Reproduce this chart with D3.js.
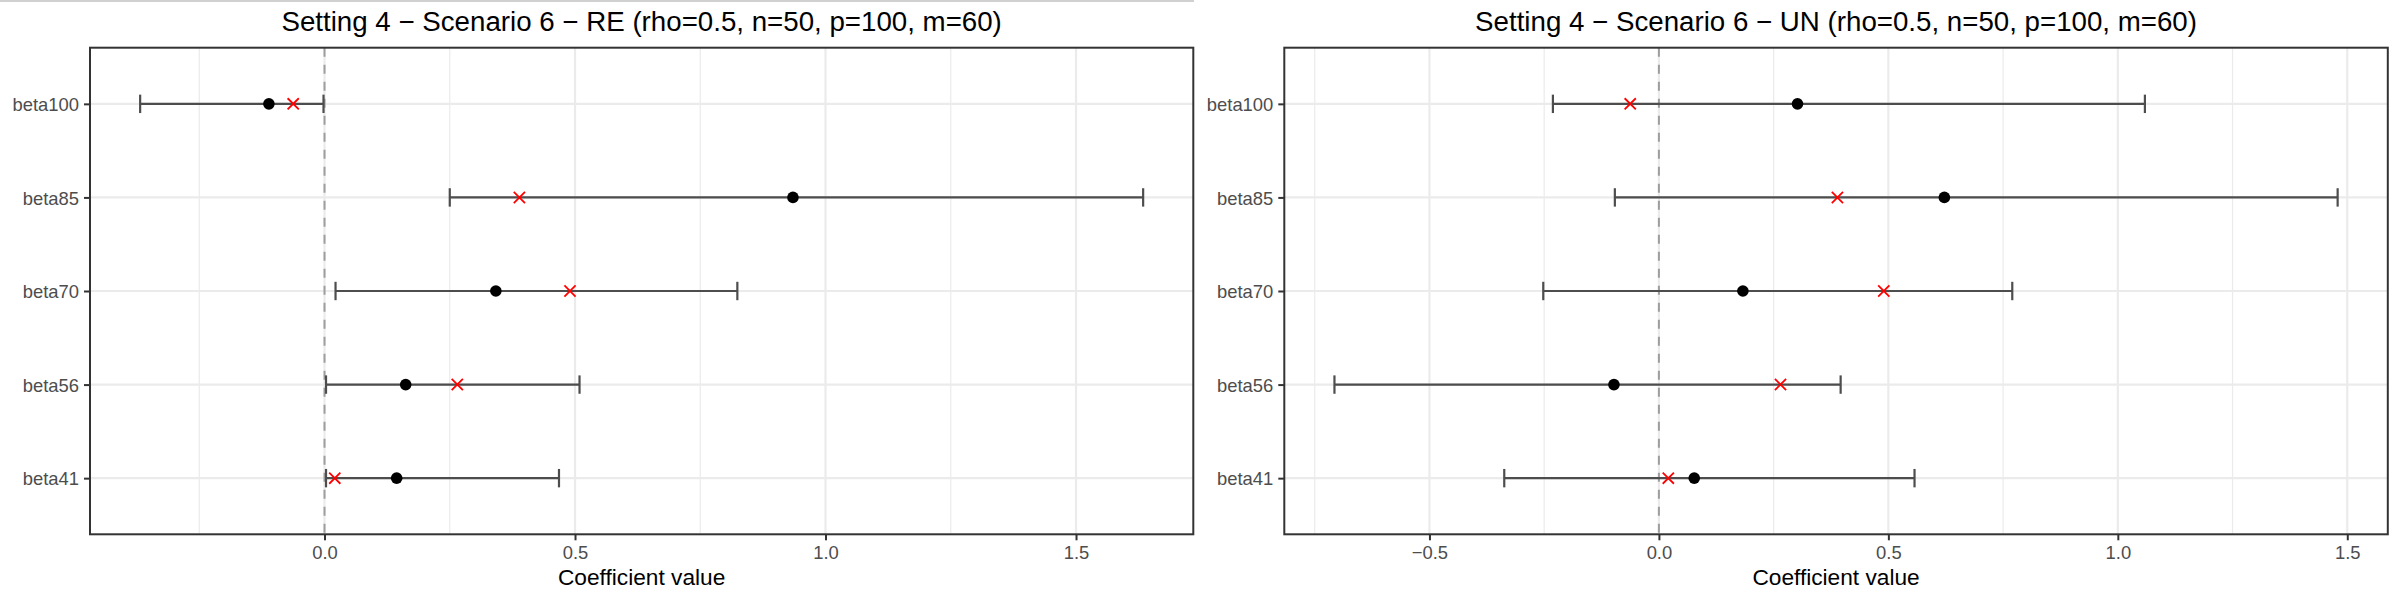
<!DOCTYPE html>
<html>
<head>
<meta charset="utf-8">
<script src="https://cdn.jsdelivr.net/npm/d3@7"></script>
<style>
  html, body { margin: 0; padding: 0; background: #fff; }
  svg { display: block; font-family: "Liberation Sans", Arial, sans-serif; }
</style>
</head>
<body>
<svg id="chart" width="2400" height="601"></svg>
<script>
// ---- data (top-to-bottom order of the y axis) ----
const categories = ["beta100", "beta85", "beta70", "beta56", "beta41"];
const trueValues = [-0.0625, 0.389, 0.490, 0.265, 0.0205];

const reEstimate = [-0.111, 0.935, 0.342, 0.162, 0.144];
const reLower    = [-0.368, 0.250, 0.022, 0.003, 0.003];
const reUpper    = [-0.002, 1.634, 0.824, 0.509, 0.468];

const unEstimate = [0.302, 0.622, 0.183, -0.098, 0.077];
const unLower    = [-0.231, -0.096, -0.252, -0.707, -0.337];
const unUpper    = [1.059, 1.479, 0.770, 0.396, 0.557];

const titles = [
  "Setting 4 \u2212 Scenario 6 \u2212 RE (rho=0.5, n=50, p=100, m=60)",
  "Setting 4 \u2212 Scenario 6 \u2212 UN (rho=0.5, n=50, p=100, m=60)"
];
const xTitle = "Coefficient value";

// ---- layout ----
const svg = d3.select("#chart");
svg.append("rect").attr("x", 0).attr("y", 0).attr("width", 1194).attr("height", 2).attr("fill", "#d0d0d0");

const panels = [
  { x0: 90, x1: 1193.3, title: titles[0], est: reEstimate, lo: reLower, hi: reUpper },
  { x0: 1284.3, x1: 2387.8, title: titles[1], est: unEstimate, lo: unLower, hi: unUpper }
];
const panelTop = 47.7, panelBottom = 534.3;
const fmt = d => (d < 0 ? "\u2212" : "") + d3.format(".1f")(Math.abs(d));

panels.forEach(p => {
  const rows = categories.map((c, i) => ({ cat: c, est: p.est[i], lo: p.lo[i], hi: p.hi[i], tru: trueValues[i] }));
  const mn = d3.min(rows, r => Math.min(r.lo, r.est, r.tru, 0));
  const mx = d3.max(rows, r => Math.max(r.hi, r.est, r.tru, 0));
  const pad = (mx - mn) * 0.05;
  const x = d3.scaleLinear().domain([mn - pad, mx + pad]).range([p.x0, p.x1]);
  const y = d3.scalePoint().domain(categories).range([panelTop, panelBottom]).padding(0.6);

  const g = svg.append("g");
  const majors = x.ticks(5);
  const step = majors[1] - majors[0];
  const minors = d3.range(majors[0] - step / 2, x.domain()[1], step)
    .filter(v => v > x.domain()[0] && v < x.domain()[1] && !majors.some(m => Math.abs(m - v) < 1e-9));

  g.selectAll(".minor").data(minors).join("line")
    .attr("x1", d => x(d)).attr("x2", d => x(d)).attr("y1", panelTop).attr("y2", panelBottom)
    .attr("stroke", "#ebebeb").attr("stroke-width", 1.2);
  g.selectAll(".majx").data(majors).join("line")
    .attr("x1", d => x(d)).attr("x2", d => x(d)).attr("y1", panelTop).attr("y2", panelBottom)
    .attr("stroke", "#ebebeb").attr("stroke-width", 2.2);
  g.selectAll(".majy").data(categories).join("line")
    .attr("x1", p.x0).attr("x2", p.x1).attr("y1", d => y(d)).attr("y2", d => y(d))
    .attr("stroke", "#ebebeb").attr("stroke-width", 2.2);

  g.append("line").attr("x1", x(0)).attr("x2", x(0)).attr("y1", panelTop).attr("y2", panelBottom)
    .attr("stroke", "#9e9e9e").attr("stroke-width", 2).attr("stroke-dasharray", "9,8");

  const capH = 9.2;
  const eb = g.selectAll(".eb").data(rows).join("g").attr("stroke", "#4d4d4d").attr("stroke-width", 2.2);
  eb.append("line").attr("x1", d => x(d.lo)).attr("x2", d => x(d.hi)).attr("y1", d => y(d.cat)).attr("y2", d => y(d.cat));
  eb.append("line").attr("x1", d => x(d.lo)).attr("x2", d => x(d.lo)).attr("y1", d => y(d.cat) - capH).attr("y2", d => y(d.cat) + capH);
  eb.append("line").attr("x1", d => x(d.hi)).attr("x2", d => x(d.hi)).attr("y1", d => y(d.cat) - capH).attr("y2", d => y(d.cat) + capH);

  g.selectAll(".pt").data(rows).join("circle")
    .attr("cx", d => x(d.est)).attr("cy", d => y(d.cat)).attr("r", 5.8).attr("fill", "#000");

  const s = 5.6;
  g.selectAll(".cross").data(rows).join("path")
    .attr("d", d => {
      const cx = x(d.tru), cy = y(d.cat);
      return `M${cx - s},${cy - s}L${cx + s},${cy + s}M${cx - s},${cy + s}L${cx + s},${cy - s}`;
    })
    .attr("stroke", "#ff0000").attr("stroke-width", 1.8).attr("fill", "none");

  g.append("rect").attr("x", p.x0).attr("y", panelTop).attr("width", p.x1 - p.x0).attr("height", panelBottom - panelTop)
    .attr("fill", "none").attr("stroke", "#333333").attr("stroke-width", 2);

  const xAxis = g.append("g").attr("transform", `translate(0,${panelBottom})`)
    .call(d3.axisBottom(x).tickValues(majors).tickFormat(fmt).tickSize(6).tickPadding(6));
  xAxis.select(".domain").remove();
  xAxis.selectAll(".tick line").attr("stroke", "#333333").attr("stroke-width", 2);
  xAxis.selectAll(".tick text").attr("fill", "#4d4d4d").attr("font-size", 18.4)
    .attr("font-family", "Liberation Sans, Arial, sans-serif").attr("dy", "0.71em");

  const yAxis = g.append("g").attr("transform", `translate(${p.x0},0)`)
    .call(d3.axisLeft(y).tickSize(6).tickPadding(5));
  yAxis.select(".domain").remove();
  yAxis.selectAll(".tick line").attr("stroke", "#333333").attr("stroke-width", 2);
  yAxis.selectAll(".tick text").attr("fill", "#4d4d4d").attr("font-size", 18.4)
    .attr("font-family", "Liberation Sans, Arial, sans-serif").attr("dy", "0.36em");

  const cx = (p.x0 + p.x1) / 2;
  g.append("text").attr("x", cx).attr("y", 30.5).attr("text-anchor", "middle")
    .attr("font-size", 27.7).attr("fill", "#000").text(p.title);
  g.append("text").attr("x", cx).attr("y", 585).attr("text-anchor", "middle")
    .attr("font-size", 22.7).attr("fill", "#000").text(xTitle);
});
</script>
</body>
</html>
